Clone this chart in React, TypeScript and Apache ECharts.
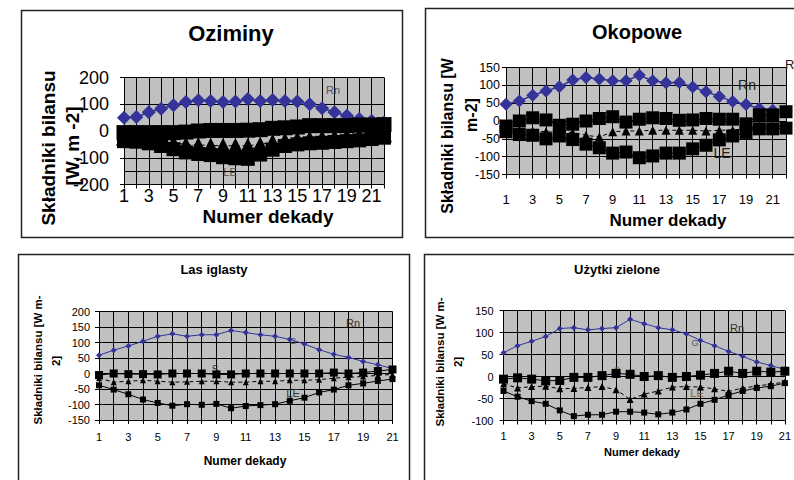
import React, { useEffect, useRef } from "react";
import * as echarts from "echarts";

// Decade numbers (22 for the crop panels, 21 for forest and grassland)
const dekady22 = ["1","2","3","4","5","6","7","8","9","10","11","12","13","14","15","16","17","18","19","20","21","22"];
const dekady21 = ["1","2","3","4","5","6","7","8","9","10","11","12","13","14","15","16","17","18","19","20","21"];

// Oziminy
const ozRn = [50, 52, 70, 83, 96, 108, 115, 112, 108, 110, 120, 112, 116, 112, 110, 100, 85, 70, 57, 45, 38, 32];
const ozG = [-6, -6, -6, -6, -6, -4, 0, 2, 2, 2, 3, 5, 10, 12, 15, 20, 20, 20, 20, 22, 22, 24];
const ozS = [-25, -28, -32, -38, -45, -50, -52, -54, -55, -55, -55, -50, -40, -35, -30, -28, -25, -22, -20, -17, -14, -12];
const ozLE = [-38, -40, -46, -56, -68, -80, -86, -90, -98, -102, -104, -88, -70, -56, -50, -46, -44, -41, -38, -35, -30, -25];

// Okopowe
const okRn = [47, 56, 72, 84, 96, 115, 122, 118, 113, 113, 128, 113, 107, 108, 95, 82, 69, 55, 46, 35, 30, 28];
const okG = [-14, 0, 9, 3, -12, -9, 0, 7, 12, -3, 5, 9, 7, 2, 3, 7, 5, 5, -8, 17, 17, 26];
const okS = [-22, -25, -28, -30, -32, -32, -40, -45, -30, -28, -28, -26, -26, -26, -26, -28, -26, -25, -22, -18, -15, -14];
const okLE = [-30, -38, -40, -50, -42, -52, -65, -75, -90, -87, -103, -98, -90, -90, -78, -68, -53, -42, -32, -22, -22, -20];

// Las iglasty
const lasRn = [59, 75, 89, 104, 120, 128, 120, 125, 125, 139, 132, 125, 120, 110, 95, 77, 62, 52, 39, 28, 16];
const lasG = [-5, 0, -2, -2, -3, 0, 0, 0, -3, -3, 0, 0, 0, 0, 0, 0, 3, 0, 3, 8, 13];
const lasS = [-15, -28, -25, -22, -25, -28, -27, -25, -25, -28, -28, -25, -25, -22, -22, -20, -15, -12, -10, -6, -3];
const lasLE = [-38, -52, -67, -84, -95, -104, -99, -101, -98, -112, -105, -102, -99, -88, -78, -61, -52, -38, -32, -24, -18];

// Użytki zielone
const uzRn = [54, 70, 80, 91, 109, 111, 106, 109, 111, 130, 120, 111, 106, 97, 82, 70, 57, 46, 33, 25, 16];
const uzG = [-6, -3, -6, -10, -9, -2, -2, 2, 7, 5, 0, 2, -2, 0, 3, 7, 12, 7, 12, 10, 12];
const uzS = [-17, -26, -23, -22, -28, -27, -25, -23, -30, -52, -40, -33, -24, -23, -24, -28, -34, -26, -22, -17, -13];
const uzLE = [-33, -46, -56, -62, -77, -90, -87, -87, -80, -80, -82, -86, -82, -75, -62, -53, -42, -33, -26, -22, -15];

// value where the category axis of the Oziminy panel crosses
const ozAxisCross = -150;

const NAVY = "#333399";
const FONT = "'Liberation Sans', Arial, sans-serif";

type Sizes = { rn: number; g: number; s: number; le: number; rnLine: number };

function panelSeries(
  idx: number,
  rn: number[],
  g: number[],
  s: number[],
  le: number[],
  sz: Sizes,
  extra: any = {}
) {
  const base = { type: "line", xAxisIndex: idx, yAxisIndex: idx, silent: true, showAllSymbol: true };
  return [
    {
      ...base,
      name: "Rn",
      data: rn,
      symbol: "diamond",
      symbolSize: sz.rn,
      itemStyle: { color: NAVY },
      lineStyle: { color: NAVY, width: sz.rnLine },
    },
    {
      ...base,
      name: "S",
      data: s,
      symbol: "triangle",
      symbolSize: sz.s,
      itemStyle: { color: "#000" },
      lineStyle: { color: "#000", width: 1, type: [4, 3] },
    },
    {
      ...base,
      name: "LE",
      data: le,
      symbol: "rect",
      symbolSize: sz.le,
      itemStyle: { color: "#000" },
      lineStyle: { color: "#000", width: 1 },
    },
    {
      ...base,
      name: "G",
      data: g,
      symbol: "rect",
      symbolSize: sz.g,
      itemStyle: { color: "#000" },
      lineStyle: { color: "#000", width: 1 },
      ...extra,
    },
  ];
}

function xAx(idx: number, data: string[], fontSize: number, margin: number) {
  return {
    type: "category",
    gridIndex: idx,
    data,
    boundaryGap: false,
    axisLine: { onZero: false, lineStyle: { color: "#000", width: 1 } },
    axisTick: { show: true, length: 4, interval: 0, lineStyle: { color: "#000" } },
    axisLabel: { interval: 1, fontSize, color: "#000", margin, fontFamily: FONT },
    splitLine: { show: true, interval: 0, lineStyle: { color: "#000", width: 1 } },
  };
}

function yAx(idx: number, min: number, max: number, interval: number, fontSize: number, margin: number) {
  return {
    type: "value",
    gridIndex: idx,
    min,
    max,
    interval,
    axisLine: { show: true, onZero: false, lineStyle: { color: "#000", width: 1 } },
    axisTick: { show: true, length: 4, lineStyle: { color: "#000" } },
    axisLabel: { fontSize, color: "#000", margin, fontFamily: FONT },
    splitLine: { show: true, lineStyle: { color: "#000", width: 1 } },
  };
}

function txt(x: number, y: number, text: string, fontSize: number, opts: any = {}) {
  return {
    type: "text",
    x,
    y,
    z: opts.z ?? 10,
    rotation: opts.rotation ?? 0,
    silent: true,
    style: {
      text,
      fontSize,
      fontWeight: opts.bold ? "bold" : "normal",
      fontFamily: FONT,
      fill: opts.color ?? "#000",
      textAlign: opts.align ?? "center",
      textVerticalAlign: "middle",
    },
  };
}

function box(x: number, y: number, w: number, h: number) {
  return {
    type: "rect",
    z: 10,
    silent: true,
    shape: { x, y, width: w, height: h },
    style: { fill: "none", stroke: "#222", lineWidth: 1.5 },
  };
}

export default function App() {
  const ref = useRef<HTMLDivElement>(null);

  useEffect(() => {
    if (!ref.current) return;
    const chart = echarts.init(ref.current, null, { renderer: "svg" });
    const V = Math.PI / 2;

    const option: any = {
      animation: false,
      textStyle: { fontFamily: FONT },
      grid: [
        { left: 124, top: 77.5, width: 260, height: 107, show: true, backgroundColor: "#c0c0c0", borderWidth: 0 },
        { left: 506, top: 67.5, width: 280, height: 107, show: true, backgroundColor: "#c0c0c0", borderWidth: 0 },
        { left: 99, top: 311.5, width: 293.5, height: 108.5, show: true, backgroundColor: "#c0c0c0", borderWidth: 0 },
        { left: 503.5, top: 310.5, width: 293.4, height: 110, show: true, backgroundColor: "#c0c0c0", borderWidth: 0 },
      ],
      xAxis: [
        xAx(0, dekady22, 18, 2),
        xAx(1, dekady22, 13, 18),
        xAx(2, dekady21, 11, 11),
        xAx(3, dekady21, 11, 10),
      ],
      yAxis: [
        yAx(0, -200, 200, 100, 18, 15),
        yAx(1, -150, 150, 50, 12.5, 6),
        yAx(2, -150, 200, 50, 11, 9),
        yAx(3, -100, 150, 50, 11, 10),
      ],
      series: [
        ...panelSeries(0, ozRn, ozG, ozS, ozLE, { rn: 14, g: 15, s: 16, le: 14, rnLine: 1.5 }, {
          markLine: {
            silent: true,
            symbol: "none",
            label: { show: false },
            lineStyle: { color: "#000", width: 1, type: "solid" },
            data: [{ yAxis: ozAxisCross }],
          },
        }),
        ...panelSeries(1, okRn, okG, okS, okLE, { rn: 13, g: 13, s: 9, le: 13, rnLine: 1.5 }),
        ...panelSeries(2, lasRn, lasG, lasS, lasLE, { rn: 6, g: 8, s: 6, le: 6, rnLine: 1 }),
        ...panelSeries(3, uzRn, uzG, uzS, uzLE, { rn: 6, g: 9, s: 7, le: 6, rnLine: 1 }),
      ],
      graphic: [
        box(21.5, 10.5, 381, 227),
        box(425.5, 8.5, 400, 229),
        box(18.5, 254.5, 391, 240),
        box(424.5, 254.5, 400, 240),

        txt(231, 33, "Oziminy", 22, { bold: true }),
        txt(637, 32, "Okopowe", 20, { bold: true }),
        txt(214, 269, "Las iglasty", 13, { bold: true }),
        txt(617, 269, "Użytki zielone", 13, { bold: true }),

        txt(48, 148, "Składniki bilansu", 19, { bold: true, rotation: V }),
        txt(72, 146, "[W, m -2]", 19, { bold: true, rotation: V }),
        txt(447, 136, "Składniki bilansu [W", 16, { bold: true, rotation: V }),
        txt(471, 115, "m-2]", 16, { bold: true, rotation: V }),
        txt(37.5, 360, "Składniki bilansu [W m-", 11.5, { bold: true, rotation: V }),
        txt(56, 361, "2]", 11.5, { bold: true, rotation: V }),
        txt(440, 362, "Składniki bilansu [W m-", 11.5, { bold: true, rotation: V }),
        txt(458, 362, "2]", 11.5, { bold: true, rotation: V }),

        txt(268, 216, "Numer dekady", 19, { bold: true }),
        txt(668, 220, "Numer dekady", 17, { bold: true }),
        txt(245, 461, "Numer dekady", 12, { bold: true }),
        txt(642, 452, "Numer dekady", 11, { bold: true }),

        // series name tags inside the plots
        txt(333, 90, "Rn", 11, { color: "#555", z: 1 }),
        txt(230, 172, "LE", 11, { color: "#555", z: 1 }),
        txt(747, 85, "Rn", 14, { color: "#222", z: 1 }),
        txt(722, 153, "LE", 14, { color: "#222", z: 1 }),
        txt(785, 64, "R", 13, { color: "#222", align: "left" }),
        txt(353, 323, "Rn", 11, { color: "#333", z: 1 }),
        txt(293, 393, "LE", 11, { color: "#333", z: 1 }),
        txt(215, 369, "S", 10, { color: "#333", z: 1 }),
        txt(293, 341, "G", 9, { color: "#555", z: 1 }),
        txt(737, 328, "Rn", 11, { color: "#333", z: 1 }),
        txt(697, 393, "LE", 11, { color: "#8b5a2b", z: 1 }),
        txt(617, 371, "S", 10, { color: "#8b5a2b", z: 1 }),
        txt(695, 343, "G", 9, { color: "#555", z: 1 }),
      ],
    };

    chart.setOption(option);
    return () => chart.dispose();
  }, []);

  return (
    <div
      ref={ref}
      style={{ position: "absolute", left: 0, top: 0, width: 794, height: 480, background: "#fff" }}
    />
  );
}
